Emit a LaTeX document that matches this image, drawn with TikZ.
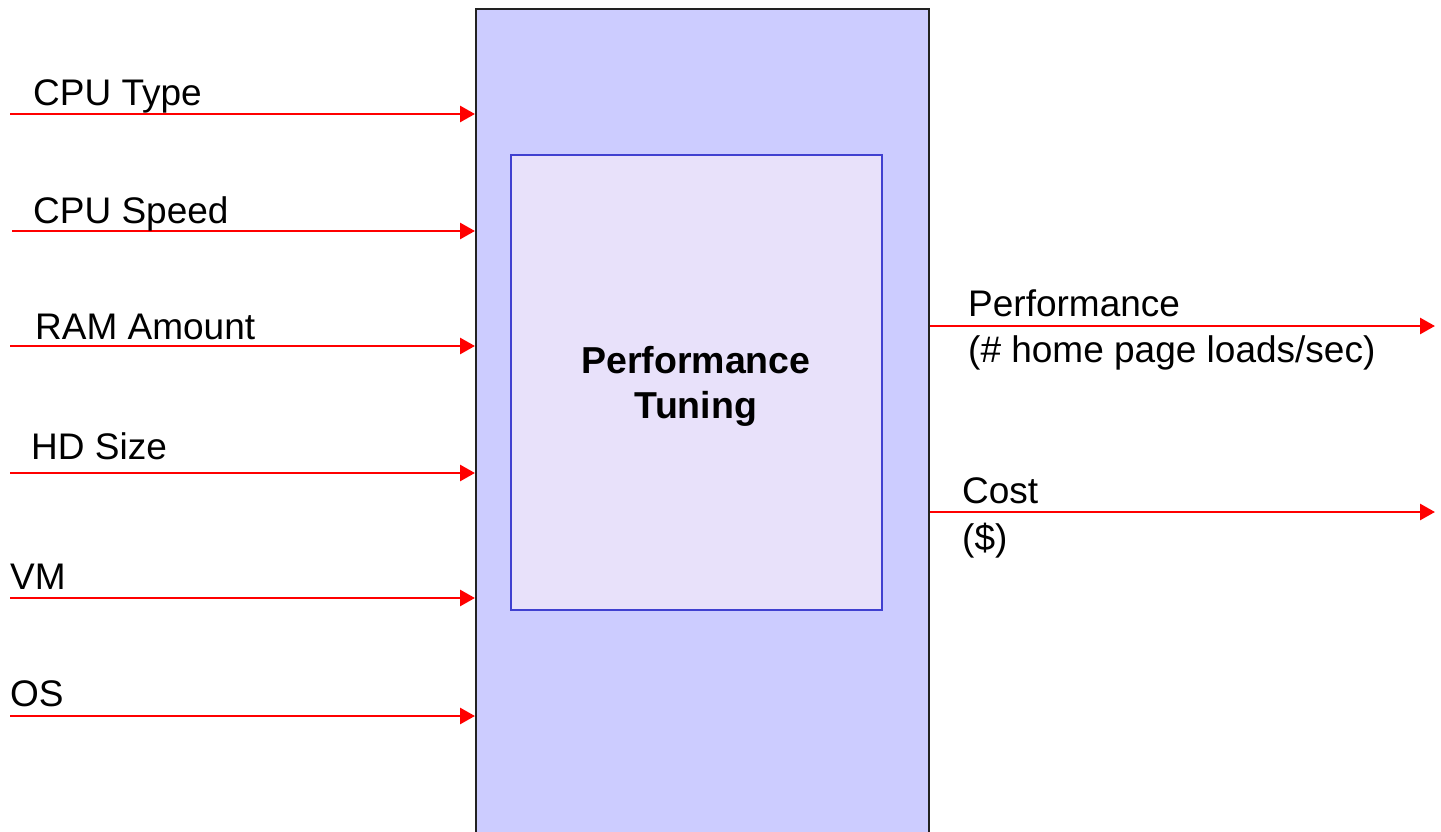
\documentclass[tikz,border=0pt]{standalone}
\usepackage{fontspec}
\setmainfont{Liberation Sans}
\usetikzlibrary{arrows.meta}
\definecolor{outerfill}{HTML}{CCCCFF}
\definecolor{innerfill}{HTML}{E8E1FA}
\definecolor{innerdraw}{HTML}{4040D0}
\definecolor{outerdraw}{HTML}{222222}
\begin{document}
\begin{tikzpicture}[x=1pt,y=-1pt,
  outerbox/.style={draw=outerdraw,line width=2.2pt,fill=outerfill,inner sep=0pt,anchor=north west},
  innerbox/.style={draw=innerdraw,line width=2pt,fill=innerfill,inner sep=0pt,anchor=north west},
  sig/.style={draw=red,line width=2.8pt,-{Triangle[length=15pt,width=16pt]}},
  lbl/.style={anchor=base west,inner sep=0pt,font=\fontsize{37}{46}\selectfont},
  title/.style={align=center,inner sep=0pt,font=\bfseries\fontsize{37.5}{45}\selectfont}]
\useasboundingbox (0,0) rectangle (1441,832);
\clip (0,0) rectangle (1441,832);
\node[outerbox,minimum width=453pt,minimum height=850pt] (sys) at (475,8) {};
\node[innerbox,minimum width=371pt,minimum height=455pt] (core) at (510,154) {};
\node[title] (t) at (696,386) {Performance\\Tuning};
% inputs
\coordinate (i1) at (10,114);
\coordinate (i2) at (12,231);
\coordinate (i3) at (10,346);
\coordinate (i4) at (10,473);
\coordinate (i5) at (10,598);
\coordinate (i6) at (10,716);
\draw[sig] (i1) -- (sys.west |- i1);
\draw[sig] (i2) -- (sys.west |- i2);
\draw[sig] (i3) -- (sys.west |- i3);
\draw[sig] (i4) -- (sys.west |- i4);
\draw[sig] (i5) -- (sys.west |- i5);
\draw[sig] (i6) -- (sys.west |- i6);
\node[lbl] (l1) at (33,106) {CPU Type};
\node[lbl] (l2) at (33,223) {CPU Speed};
\node[lbl] (l3) at (35,339) {RAM Amount};
\node[lbl] (l4) at (31,459) {HD Size};
\node[lbl] (l5) at (10,589) {VM};
\node[lbl] (l6) at (10,706) {OS};
% outputs
\coordinate (o1) at (1435,326);
\coordinate (o2) at (1435,512);
\draw[sig] (sys.east |- o1) -- (o1);
\draw[sig] (sys.east |- o2) -- (o2);
\node[lbl] (p1) at (968,316) {Performance};
\node[lbl] (p2) at (968,362) {(\# home page loads/sec)};
\node[lbl] (c1) at (962,503) {Cost};
\node[lbl] (c2) at (962,550) {(\$)};
\end{tikzpicture}
\end{document}
